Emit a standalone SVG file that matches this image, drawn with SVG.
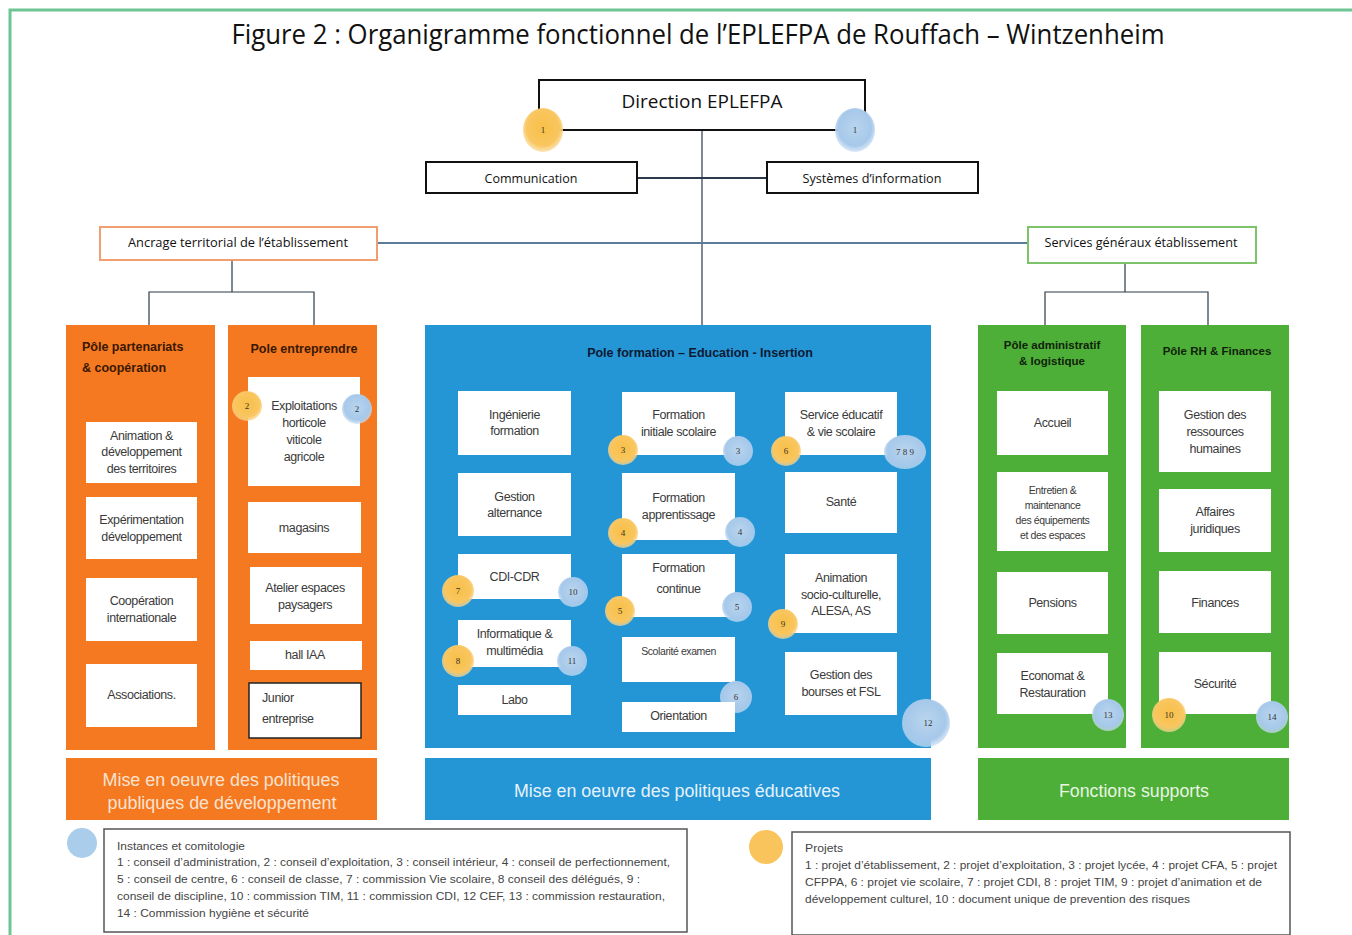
<svg xmlns="http://www.w3.org/2000/svg" width="1352" height="935" viewBox="0 0 1352 935">
<defs>
<radialGradient id="gO" cx="50%" cy="45%" r="55%">
<stop offset="0" stop-color="#F8C048"/><stop offset="0.75" stop-color="#F9C660"/><stop offset="1" stop-color="#FBD996" stop-opacity="0.7"/>
</radialGradient>
<radialGradient id="gB" cx="50%" cy="45%" r="55%">
<stop offset="0" stop-color="#B9D5EE"/><stop offset="0.75" stop-color="#A6C8EA"/><stop offset="1" stop-color="#C9DEF2" stop-opacity="0.7"/>
</radialGradient>
<style>
.t{font-family:"Liberation Sans",Arial,sans-serif;fill:#333;}
.c{font-family:"Open Sans","Liberation Sans",sans-serif;fill:#111;}
.bx{font-family:"Liberation Sans",Arial,sans-serif;fill:#3a3a3a;font-size:12.5px;text-anchor:middle;letter-spacing:-0.4px;}
.sm{font-size:10.5px;}
.st{text-anchor:start;}
.ttl{font-family:"Liberation Sans",Arial,sans-serif;font-weight:bold;font-size:12.5px;}
.ttg{font-size:11.5px;text-anchor:middle;fill:#10230a;}
.wb{fill:#ffffff;}
.num{font-family:"Liberation Serif",serif;font-size:9px;fill:#333;text-anchor:middle;}
.ln{fill:none;stroke:#2b3a4a;stroke-width:1.2;}
.band{font-family:"Liberation Sans",Arial,sans-serif;font-size:18px;text-anchor:middle;}
.lg{font-family:"Liberation Sans",Arial,sans-serif;font-size:11.5px;fill:#444;}
</style>
</defs>
<rect x="0" y="0" width="1352" height="935" fill="#ffffff"/>
<!-- frame -->
<path d="M10 935 V10 H1352" fill="none" stroke="#6CC593" stroke-width="3"/>
<text class="c" x="698" y="44" font-size="27" text-anchor="middle" textLength="933" lengthAdjust="spacingAndGlyphs">Figure 2 : Organigramme fonctionnel de l’EPLEFPA de Rouffach – Wintzenheim</text>

<g id="connectors">
<line class="ln" x1="702" y1="130" x2="702" y2="325"/>
<line x1="637" y1="178" x2="767" y2="178" stroke="#2b3a4a" stroke-width="2"/>
<line x1="377" y1="243" x2="1028" y2="243" stroke="#5b7d9a" stroke-width="2"/>
<path class="ln" d="M232 260 V292 M149 325 V292 H314 V325"/>
<path class="ln" d="M1125 263 V292 M1045 325 V292 H1208 V325"/>
</g>

<g id="direction">
<rect x="539" y="80" width="326" height="50" fill="#fff" stroke="#111" stroke-width="2"/>
<text class="c" x="702" y="108" font-size="18" text-anchor="middle" textLength="161" lengthAdjust="spacingAndGlyphs">Direction EPLEFPA</text>
<ellipse cx="543" cy="130" rx="20" ry="22" fill="url(#gO)"/>
<text class="num" x="543" y="133">1</text>
<ellipse cx="855" cy="130" rx="20" ry="22" fill="url(#gB)"/>
<text class="num" x="855" y="133">1</text>
</g>
<g id="communication">
<rect x="426" y="162" width="211" height="31" fill="#fff" stroke="#111" stroke-width="2"/>
<text class="c" x="531" y="183" font-size="13" text-anchor="middle" textLength="93" lengthAdjust="spacingAndGlyphs">Communication</text>
</g>
<g id="systemes">
<rect x="767" y="162" width="211" height="31" fill="#fff" stroke="#111" stroke-width="2"/>
<text class="c" x="872" y="183" font-size="13" text-anchor="middle" textLength="139" lengthAdjust="spacingAndGlyphs">Systèmes d’information</text>
</g>
<g id="ancrage">
<rect x="100" y="227" width="277" height="33" fill="#fff" stroke="#F0A070" stroke-width="2"/>
<text class="c" x="238" y="247" font-size="13" text-anchor="middle" textLength="220" lengthAdjust="spacingAndGlyphs">Ancrage territorial de l’établissement</text>
</g>
<g id="services">
<rect x="1028" y="227" width="228" height="36" fill="#fff" stroke="#7CC36A" stroke-width="2"/>
<text class="c" x="1141" y="247" font-size="13" text-anchor="middle" textLength="193" lengthAdjust="spacingAndGlyphs">Services généraux établissement</text>
</g>

<!-- Orange pole 1 -->
<g id="pole-partenariats">
<rect x="66" y="325" width="149" height="425" fill="#F47920"/>
<text class="ttl" x="82" y="351" fill="#3a1800">Pôle partenariats</text>
<text class="ttl" x="82" y="372" fill="#3a1800">&amp; coopération</text>
<rect class="wb" x="86" y="422" width="111" height="61"/>
<text class="bx" x="141.5" y="440">Animation &amp;</text>
<text class="bx" x="141.5" y="456">développement</text>
<text class="bx" x="141.5" y="473">des territoires</text>
<rect class="wb" x="86" y="497" width="111" height="62"/>
<text class="bx" x="141.5" y="524">Expérimentation</text>
<text class="bx" x="141.5" y="541">développement</text>
<rect class="wb" x="86" y="578" width="111" height="63"/>
<text class="bx" x="141.5" y="605">Coopération</text>
<text class="bx" x="141.5" y="622">internationale</text>
<rect class="wb" x="86" y="664" width="111" height="63"/>
<text class="bx" x="141.5" y="699">Associations.</text>
</g>

<!-- Orange pole 2 -->
<g id="pole-entreprendre">
<rect x="228" y="325" width="149" height="425" fill="#F47920"/>
<text class="ttl" x="304" y="353" fill="#3a1800" text-anchor="middle">Pole entreprendre</text>
<rect class="wb" x="248" y="377" width="112" height="109"/>
<text class="bx" x="304" y="410">Exploitations</text>
<text class="bx" x="304" y="427">horticole</text>
<text class="bx" x="304" y="444">viticole</text>
<text class="bx" x="304" y="461">agricole</text>
<ellipse cx="247" cy="406" rx="15" ry="15" fill="url(#gO)"/>
<text class="num" x="247" y="409">2</text>
<ellipse cx="357" cy="409" rx="15" ry="15" fill="url(#gB)"/>
<text class="num" x="357" y="412">2</text>
<rect class="wb" x="248" y="502" width="113" height="51"/>
<text class="bx" x="304" y="532">magasins</text>
<rect class="wb" x="250" y="567" width="112" height="57"/>
<text class="bx" x="305" y="592">Atelier espaces</text>
<text class="bx" x="305" y="609">paysagers</text>
<rect class="wb" x="250" y="641" width="112" height="29"/>
<text class="bx" x="305" y="659">hall IAA</text>
<rect x="249" y="683" width="112" height="55" fill="#fff" stroke="#222" stroke-width="1.5"/>
<text class="bx st" x="262" y="702">Junior</text>
<text class="bx st" x="262" y="723">entreprise</text>
</g>

<!-- Blue pole -->
<g id="pole-formation">
<rect x="425" y="325" width="506" height="423" fill="#2496D6"/>
<text class="ttl" x="700" y="357" fill="#0c1a33" text-anchor="middle">Pole formation – Education - Insertion</text>
<!-- col A -->
<rect class="wb" x="458" y="391" width="113" height="64"/>
<text class="bx" x="514.5" y="419">Ingénierie</text>
<text class="bx" x="514.5" y="435">formation</text>
<rect class="wb" x="458" y="473" width="113" height="63"/>
<text class="bx" x="514.5" y="501">Gestion</text>
<text class="bx" x="514.5" y="517">alternance</text>
<rect class="wb" x="458" y="554" width="113" height="45"/>
<text class="bx" x="514.5" y="581">CDI-CDR</text>
<ellipse cx="458" cy="591" rx="16" ry="16" fill="url(#gO)"/>
<text class="num" x="458" y="594">7</text>
<ellipse cx="573" cy="592" rx="15" ry="15" fill="url(#gB)"/>
<text class="num" x="573" y="595">10</text>
<rect class="wb" x="458" y="620" width="113" height="47"/>
<text class="bx" x="514.5" y="638">Informatique &amp;</text>
<text class="bx" x="514.5" y="655">multimédia</text>
<ellipse cx="458" cy="661" rx="16" ry="16" fill="url(#gO)"/>
<text class="num" x="458" y="664">8</text>
<ellipse cx="572" cy="661" rx="15" ry="15" fill="url(#gB)"/>
<text class="num" x="572" y="664">11</text>
<rect class="wb" x="458" y="685" width="113" height="30"/>
<text class="bx" x="514.5" y="704">Labo</text>
<!-- col B -->
<rect class="wb" x="622" y="392" width="113" height="63"/>
<text class="bx" x="678.5" y="419">Formation</text>
<text class="bx" x="678.5" y="436">initiale scolaire</text>
<ellipse cx="623" cy="450" rx="15" ry="15" fill="url(#gO)"/>
<text class="num" x="623" y="453">3</text>
<ellipse cx="738" cy="451" rx="15" ry="15" fill="url(#gB)"/>
<text class="num" x="738" y="454">3</text>
<rect class="wb" x="622" y="473" width="113" height="67"/>
<text class="bx" x="678.5" y="502">Formation</text>
<text class="bx" x="678.5" y="519">apprentissage</text>
<ellipse cx="623" cy="533" rx="15" ry="15" fill="url(#gO)"/>
<text class="num" x="623" y="536">4</text>
<ellipse cx="740" cy="532" rx="15" ry="15" fill="url(#gB)"/>
<text class="num" x="740" y="535">4</text>
<rect class="wb" x="622" y="554" width="113" height="63"/>
<text class="bx" x="678.5" y="572">Formation</text>
<text class="bx" x="678.5" y="593">continue</text>
<ellipse cx="620" cy="611" rx="15" ry="15" fill="url(#gO)"/>
<text class="num" x="620" y="614">5</text>
<ellipse cx="737" cy="607" rx="15" ry="15" fill="url(#gB)"/>
<text class="num" x="737" y="610">5</text>
<rect class="wb" x="622" y="637" width="113" height="45"/>
<text class="bx sm" x="678.5" y="655">Scolarité examen</text>
<ellipse cx="736" cy="697" rx="16" ry="16" fill="url(#gB)"/>
<text class="num" x="736" y="700">6</text>
<rect class="wb" x="622" y="702" width="113" height="30"/>
<text class="bx" x="678.5" y="720">Orientation</text>
<!-- col C -->
<rect class="wb" x="785" y="392" width="112" height="63"/>
<text class="bx" x="841" y="419">Service éducatif</text>
<text class="bx" x="841" y="436">&amp; vie scolaire</text>
<ellipse cx="786" cy="451" rx="15" ry="15" fill="url(#gO)"/>
<text class="num" x="786" y="454">6</text>
<ellipse cx="905" cy="452" rx="21" ry="17" fill="url(#gB)"/>
<text class="num" x="905" y="455">7 8 9</text>
<rect class="wb" x="785" y="472" width="112" height="61"/>
<text class="bx" x="841" y="506">Santé</text>
<rect class="wb" x="785" y="554" width="112" height="79"/>
<text class="bx" x="841" y="582">Animation</text>
<text class="bx" x="841" y="599">socio-culturelle,</text>
<text class="bx" x="841" y="615">ALESA, AS</text>
<ellipse cx="783" cy="624" rx="15" ry="15" fill="url(#gO)"/>
<text class="num" x="783" y="627">9</text>
<rect class="wb" x="785" y="652" width="112" height="63"/>
<text class="bx" x="841" y="679">Gestion des</text>
<text class="bx" x="841" y="696">bourses et FSL</text>
<ellipse cx="926" cy="723" rx="24" ry="24" fill="url(#gB)"/>
<text class="num" x="928" y="726">12</text>
</g>

<!-- Green pole 1 -->
<g id="pole-administratif">
<rect x="978" y="325" width="148" height="423" fill="#4DAE38"/>
<text class="ttl ttg" x="1052" y="349">Pôle administratif</text>
<text class="ttl ttg" x="1052" y="365">&amp; logistique</text>
<rect class="wb" x="997" y="391" width="111" height="64"/>
<text class="bx" x="1052.5" y="427">Accueil</text>
<rect class="wb" x="997" y="472" width="111" height="79"/>
<text class="bx sm" x="1052.5" y="494">Entretien &amp;</text>
<text class="bx sm" x="1052.5" y="509">maintenance</text>
<text class="bx sm" x="1052.5" y="524">des équipements</text>
<text class="bx sm" x="1052.5" y="539">et des espaces</text>
<rect class="wb" x="997" y="572" width="111" height="62"/>
<text class="bx" x="1052.5" y="607">Pensions</text>
<rect class="wb" x="997" y="653" width="111" height="61"/>
<text class="bx" x="1052.5" y="680">Economat &amp;</text>
<text class="bx" x="1052.5" y="697">Restauration</text>
<ellipse cx="1108" cy="715" rx="16" ry="16" fill="url(#gB)"/>
<text class="num" x="1108" y="718">13</text>
</g>

<!-- Green pole 2 -->
<g id="pole-rh">
<rect x="1141" y="325" width="148" height="423" fill="#4DAE38"/>
<text class="ttl ttg" x="1217" y="355">Pôle RH &amp; Finances</text>
<rect class="wb" x="1159" y="391" width="112" height="81"/>
<text class="bx" x="1215" y="419">Gestion des</text>
<text class="bx" x="1215" y="436">ressources</text>
<text class="bx" x="1215" y="453">humaines</text>
<rect class="wb" x="1159" y="489" width="112" height="63"/>
<text class="bx" x="1215" y="516">Affaires</text>
<text class="bx" x="1215" y="533">juridiques</text>
<rect class="wb" x="1159" y="571" width="112" height="62"/>
<text class="bx" x="1215" y="607">Finances</text>
<rect class="wb" x="1159" y="652" width="112" height="62"/>
<text class="bx" x="1215" y="688">Sécurité</text>
<ellipse cx="1169" cy="715" rx="17" ry="17" fill="url(#gO)"/>
<text class="num" x="1169" y="718">10</text>
<ellipse cx="1272" cy="717" rx="16" ry="16" fill="url(#gB)"/>
<text class="num" x="1272" y="720">14</text>
</g>

<!-- Bands -->
<g id="band-developpement">
<rect x="66" y="758" width="311" height="62" fill="#F47920"/>
<text class="band" x="221" y="786" fill="#FBE2D0" textLength="237" lengthAdjust="spacingAndGlyphs">Mise en oeuvre des politiques</text>
<text class="band" x="222" y="809" fill="#FBE2D0" textLength="229" lengthAdjust="spacingAndGlyphs">publiques de développement</text>
</g>
<g id="band-educatives">
<rect x="425" y="758" width="506" height="62" fill="#2496D6"/>
<text class="band" x="677" y="797" fill="#E6F2FB" textLength="326" lengthAdjust="spacingAndGlyphs">Mise en oeuvre des politiques éducatives</text>
</g>
<g id="band-supports">
<rect x="978" y="758" width="311" height="62" fill="#4DAE38"/>
<text class="band" x="1134" y="797" fill="#E8F5E0" textLength="150" lengthAdjust="spacingAndGlyphs">Fonctions supports</text>
</g>

<!-- Legends -->
<g id="legend-instances">
<ellipse cx="82" cy="843" rx="15" ry="15" fill="#A9CDEB"/>
<rect x="104" y="829" width="583" height="103" fill="#fff" stroke="#555" stroke-width="1.5"/>
<text class="lg" x="117" y="850" textLength="128" lengthAdjust="spacingAndGlyphs">Instances et comitologie</text>
<text class="lg" x="117" y="866" textLength="553" lengthAdjust="spacingAndGlyphs">1 : conseil d’administration, 2 : conseil d’exploitation, 3 : conseil intérieur, 4 : conseil de perfectionnement,</text>
<text class="lg" x="117" y="883" textLength="523" lengthAdjust="spacingAndGlyphs">5 : conseil de centre, 6 : conseil de classe, 7 : commission Vie scolaire, 8 conseil des délégués, 9 :</text>
<text class="lg" x="117" y="900" textLength="548" lengthAdjust="spacingAndGlyphs">conseil de discipline, 10 : commission TIM, 11 : commission CDI, 12 CEF, 13 : commission restauration,</text>
<text class="lg" x="117" y="917" textLength="192" lengthAdjust="spacingAndGlyphs">14 : Commission hygiène et sécurité</text>
</g>
<g id="legend-projets">
<ellipse cx="766" cy="847" rx="17" ry="17" fill="#F9C45C"/>
<rect x="792" y="832" width="498" height="103" fill="#fff" stroke="#555" stroke-width="1.5"/>
<text class="lg" x="805" y="852" textLength="38" lengthAdjust="spacingAndGlyphs">Projets</text>
<text class="lg" x="805" y="869" textLength="472" lengthAdjust="spacingAndGlyphs">1 : projet d’établissement, 2 : projet d’exploitation, 3 : projet lycée, 4 : projet CFA, 5 : projet</text>
<text class="lg" x="805" y="886" textLength="457" lengthAdjust="spacingAndGlyphs">CFPPA, 6 : projet vie scolaire, 7 : projet CDI, 8 : projet TIM, 9 : projet d’animation et de</text>
<text class="lg" x="805" y="903" textLength="385" lengthAdjust="spacingAndGlyphs">développement culturel, 10 : document unique de prevention des risques</text>
</g>
</svg>
